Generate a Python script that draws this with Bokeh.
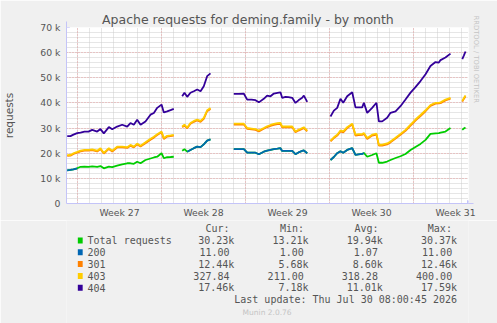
import numpy as np
from bokeh.plotting import figure
from bokeh.layouts import column
from bokeh.models import (Range1d, FixedTicker, Grid, Arrow, NormalHead, ColumnDataSource, Title)
from bokeh.core.properties import value
from bokeh.embed import file_html
from bokeh.resources import INLINE

nan = float("nan")
GAP = [nan]

# x: days since the left edge of the 33-day window; gaps = no data
day = ([0.06, 0.33, 0.58, 0.89, 1.17, 1.5, 1.83, 2.14, 2.56, 2.83, 3.11, 3.53, 3.81, 4.22, 4.64,
        5.06, 5.33, 5.61, 5.89, 6.17, 6.58, 7.0, 7.28, 7.56, 7.92, 8.11, 8.39, 8.67, 8.94]
       + [9.3]
       + [9.64, 9.83, 10.06, 10.33, 10.61, 10.89, 11.17, 11.44, 11.72, 12.0]
       + [13.0]
       + [13.94, 14.33, 14.78, 15.06, 15.42, 15.75, 16.03, 16.44, 16.72, 17.0, 17.28, 17.58,
          17.83, 17.97, 18.25, 18.5, 18.81, 19.08, 19.33, 19.64, 19.78, 20.06]
       + [21.0]
       + [22.0, 22.28, 22.56, 22.83, 23.06, 23.39, 23.81, 24.08, 24.33, 24.64, 24.78, 25.06,
          25.47, 25.83, 26.03, 26.31, 26.72, 27.0, 27.42, 27.83, 28.25, 28.67, 29.08, 29.5,
          29.92, 30.33, 30.75, 31.03, 31.17, 31.58, 32.0]
       + [32.5]
       + [32.98, 33.11, 33.25])

# values in thousands of requests
total = ([13.21, 13.4, 13.6, 14.0, 14.6, 14.7, 14.6, 14.8, 14.6, 14.9, 14.0, 14.7, 14.5, 15.1, 15.6,
          16.0, 16.0, 15.8, 16.6, 16.0, 17.3, 17.9, 18.3, 18.6, 20.0, 18.0, 18.4, 18.5, 18.6]
         + GAP
         + [21.0, 21.6, 20.6, 21.3, 22.0, 22.6, 22.4, 23.5, 25.0, 25.5]
         + GAP
         + [21.6, 21.6, 21.6, 20.2, 20.2, 20.2, 19.6, 20.6, 21.0, 21.3, 21.6, 21.8,
            22.0, 20.9, 20.9, 20.9, 20.9, 19.6, 20.3, 20.9, 21.1, 20.0]
         + GAP
         + [17.3, 18.5, 20.0, 20.8, 20.2, 21.3, 22.0, 19.3, 19.5, 19.7, 20.1, 18.6,
            19.3, 20.0, 16.2, 16.2, 16.7, 17.3, 18.1, 18.8, 19.7, 21.3, 22.5, 23.7,
            25.3, 27.7, 27.9, 28.0, 28.2, 28.6, 30.0]
         + GAP
         + [29.3, 29.8, 30.23])

r200 = ([0.001] * 4 + [nan] * 25
        + GAP
        + [nan, nan] + [0.001] * 8
        + GAP
        + [0.001] * 22
        + GAP
        + [0.001] * 11 + [nan] * 20
        + GAP
        + [nan, nan, nan])

r301 = ([5.7, 5.6, 6.1, 6.2, 6.1, 6.3, 6.4, 6.4, 6.1, 6.8, 5.9, 7.0, 6.2, 7.2, 6.7,
         6.1, 7.0, 6.5, 6.9, 6.7, 6.7, 7.5, 7.9, 8.6, 8.3, 7.7, 8.2, 8.3, 8.4]
        + GAP
        + [9.3, 9.4, 9.3, 10.4, 10.5, 10.4, 10.1, 10.2, 11.7, 12.1]
        + GAP
        + [9.8, 9.8, 9.8, 9.5, 9.3, 9.1, 9.1, 9.1, 9.4, 9.6, 9.7, 9.8,
           9.7, 9.4, 9.4, 9.4, 9.4, 8.7, 8.7, 8.8, 8.9, 8.7]
        + GAP
        + [7.4, 7.5, 7.0, 7.9, 8.1, 8.7, 9.4, 7.7, 7.7, 7.6, 7.6, 7.1,
           7.7, 7.4, 6.8, 6.8, 6.8, 7.0, 7.7, 8.5, 9.2, 9.7, 10.5, 11.1,
           11.4, 11.1, 11.8, 11.8, 11.7, 12.4, 11.7]
        + GAP
        + [11.2, 11.8, 12.44])

r403 = ([0.30, 0.29, 0.28, 0.30, 0.31, 0.30, 0.29, 0.30, 0.31, 0.30, 0.21, 0.30, 0.31, 0.30, 0.32,
         0.31, 0.30, 0.31, 0.32, 0.31, 0.32, 0.33, 0.32, 0.34, 0.33, 0.32, 0.33, 0.32, 0.33]
        + GAP
        + [0.32, 0.33, 0.32, 0.33, 0.34, 0.33, 0.34, 0.35, 0.34, 0.35]
        + GAP
        + [0.33, 0.33, 0.34, 0.32, 0.32, 0.31, 0.32, 0.32, 0.33, 0.33, 0.34, 0.33,
           0.34, 0.33, 0.32, 0.33, 0.32, 0.31, 0.32, 0.33, 0.33, 0.32]
        + GAP
        + [0.33, 0.34, 0.35, 0.36, 0.35, 0.36, 0.37, 0.35, 0.36, 0.35, 0.36, 0.35,
           0.36, 0.37, 0.36, 0.37, 0.38, 0.37, 0.38, 0.39, 0.38, 0.39, 0.40, 0.39,
           0.38, 0.37, 0.36, 0.35, 0.34, 0.34, 0.33]
        + GAP
        + [0.33, 0.33, 0.328])

r404 = ([7.6, 7.5, 7.4, 7.5, 7.2, 7.3, 7.3, 7.8, 7.6, 7.6, 7.8, 8.4, 8.5, 8.0, 8.7,
         8.2, 8.7, 8.7, 9.5, 8.3, 8.3, 9.6, 9.5, 10.5, 10.7, 10.2, 9.7, 10.0, 10.3]
        + GAP
        + [12.0, 12.7, 12.2, 12.0, 11.8, 12.0, 11.8, 12.6, 13.6, 13.8]
        + GAP
        + [11.9, 11.9, 11.9, 11.3, 11.5, 11.5, 11.2, 11.6, 12.2, 11.4, 12.1, 12.1,
           12.2, 11.4, 11.8, 11.7, 11.4, 11.4, 11.7, 12.0, 12.6, 11.4]
        + GAP
        + [9.6, 10.6, 10.7, 12.6, 11.4, 12.3, 12.5, 10.9, 10.7, 10.6, 12.0, 10.0,
           10.7, 12.3, 9.3, 9.3, 10.2, 11.4, 10.5, 11.0, 12.1, 12.7, 12.9, 13.5,
           14.3, 15.5, 16.2, 15.9, 16.8, 16.7, 17.59]
        + GAP
        + [16.6, 16.9, 17.46])

week_labels = ["Week 27", "Week 28", "Week 29", "Week 30", "Week 31"]
y_ticks = [0, 10, 20, 30, 40, 50, 60, 70]
y_tick_labels = ["0", "10 k", "20 k", "30 k", "40 k", "50 k", "60 k", "70 k"]

series_names = ["Total requests", "200", "301", "403", "404"]
series_colors = ["#00CC00", "#0066B3", "#FF8000", "#FFCC00", "#330099"]
cur_vals = ["30.23k", "11.00", "12.44k", "327.84", "17.46k"]
min_vals = ["13.21k", "1.00", "5.68k", "211.00", "7.18k"]
avg_vals = ["19.94k", "1.07", "8.60k", "318.28", "11.01k"]
max_vals = ["30.37k", "11.00", "12.46k", "400.00", "17.59k"]

# ---- stacking (Munin stacks every field on top of the total line) ----
t = np.array(total)
a200 = np.array(r200)
s200 = t + a200
s301 = t + np.nan_to_num(a200) + np.array(r301)
s403 = s301 + np.array(r403)
s404 = s403 + np.array(r404)
src = ColumnDataSource(dict(day=day, total=t, s200=s200, s301=s301, s403=s403, s404=s404))

# ---- geometry (canvas px) ----
W = 497
H1 = 220          # main chart part
H2 = 323 - H1     # legend part
FL, FT, FW, FH = 66, 27, 402, 176
FB = FT + FH
AX = "#c4c4f8"
TXT = "#555555"
FAINT = "#c4c4c4"
BG = "#f0f0f0"

p = figure(width=W, height=H1, output_backend="svg", toolbar_location=None,
           title="Apache requests for deming.family - by month",
           x_range=Range1d(0, 33.5), y_range=Range1d(0, 70),
           min_border_left=FL, min_border_right=W - FL - FW,
           min_border_top=FT, min_border_bottom=H1 - FB,
           background_fill_color="#ffffff", border_fill_color=BG,
           outline_line_color=None)

p.title.align = "left"
p.title.offset = 35.5
p.title.standoff = 2
p.title.text_font = "DejaVu Sans"
p.title.text_font_size = "12.5px"
p.title.text_font_style = "normal"
p.title.text_color = TXT

p.add_layout(Title(text="RRDTOOL / TOBI OETIKER", align="left", offset=-12, standoff=6,
                   text_font="DejaVu Sans", text_font_size="6.8px", text_font_style="normal",
                   text_color=FAINT), "right")

p.xgrid.visible = False
p.ygrid.visible = False

week_starts = [0.92, 7.92, 14.92, 21.92, 28.92]
days_grid = [0.92 + k for k in range(33)]
week_mid = [w + 3.5 for w in week_starts]

minor_x = Grid(dimension=0, ticker=FixedTicker(ticks=days_grid), grid_line_color="#cccccc",
               grid_line_dash="1 1", grid_line_width=1)
minor_y = Grid(dimension=1, ticker=FixedTicker(ticks=list(range(0, 71, 2))), grid_line_color="#cccccc",
               grid_line_dash="1 1", grid_line_width=1)
major_x = Grid(dimension=0, ticker=FixedTicker(ticks=week_starts), grid_line_color="#e8a0a0",
               grid_line_dash="1 2", grid_line_width=1)
major_y = Grid(dimension=1, ticker=FixedTicker(ticks=y_ticks[1:]), grid_line_color="#e8a0a0",
               grid_line_dash="1 2", grid_line_width=1)
for g in (minor_x, minor_y, major_x, major_y):
    p.center.append(g)

# axes
p.yaxis.ticker = FixedTicker(ticks=y_ticks)
p.yaxis.major_label_overrides = {v: s for v, s in zip(y_ticks, y_tick_labels)}
p.xaxis.ticker = FixedTicker(ticks=week_mid)
p.xaxis.major_label_overrides = {v: s for v, s in zip(week_mid, week_labels)}
for ax in (p.xaxis, p.yaxis):
    ax.axis_line_color = AX
    ax.major_tick_line_color = None
    ax.minor_tick_line_color = None
    ax.major_tick_out = 0
    ax.major_tick_in = 0
    ax.major_label_text_font = "DejaVu Sans"
    ax.major_label_text_font_size = "9.3px"
    ax.major_label_text_color = TXT
p.yaxis.major_label_standoff = 6
p.xaxis.major_label_standoff = 3
p.yaxis.axis_label = "requests"
p.yaxis.axis_label_text_font = "DejaVu Sans"
p.yaxis.axis_label_text_font_size = "10.5px"
p.yaxis.axis_label_text_font_style = "normal"
p.yaxis.axis_label_text_color = TXT
p.yaxis.axis_label_standoff = 22

# arrows at axis ends
p.add_layout(Arrow(end=NormalHead(size=6, fill_color=AX, line_color=AX), line_color=AX,
                   x_start=0, y_start=FH - 1, x_end=0, y_end=FH + 6,
                   start_units="screen", end_units="screen"))
p.add_layout(Arrow(end=NormalHead(size=6, fill_color=AX, line_color=AX), line_color=AX,
                   x_start=FW - 1, y_start=0, x_end=FW + 5, y_end=0,
                   start_units="screen", end_units="screen"))

# lines (drawing order as in Munin)
LW = 1.8
p.line("day", "total", source=src, line_color=series_colors[0], line_width=LW)
p.line("day", "s200", source=src, line_color=series_colors[1], line_width=LW)
p.line("day", "s301", source=src, line_color=series_colors[2], line_width=LW)
p.line("day", "s403", source=src, line_color=series_colors[3], line_width=LW)
p.line("day", "s404", source=src, line_color=series_colors[4], line_width=LW)

# ---- legend table (separate canvas below the chart, pixel coordinates) ----
q = figure(width=W, height=H2, output_backend="svg", toolbar_location=None, title=None,
           x_range=Range1d(0, W), y_range=Range1d(H2, 0),
           x_axis_type=None, y_axis_type=None, min_border=0,
           background_fill_color=BG, border_fill_color=BG, outline_line_color=None)

MONO = value("DejaVu Sans Mono")
FS = "10px"
CW = 6.0
headers = ["Cur:", "Min:", "Avg:", "Max:"]
head_x = [171.7, 264.0, 356.0, 446.7]
col_right = [207.5, 299.3, 391.0, 482.8]
row_y = [240.0 + i * 11.8 - H1 for i in range(5)]
head_y = 228.3 - H1

lx, ly, lt = [], [], []
rx, ry, rt = [], [], []
for h, hx in zip(headers, head_x):
    lx.append(hx); ly.append(head_y); lt.append(h)
for i, name in enumerate(series_names):
    lx.append(26); ly.append(row_y[i]); lt.append(name)
    for vals, cr in zip((cur_vals, min_vals, avg_vals, max_vals), col_right):
        v = vals[i]
        rx.append(cr - (0 if v.endswith("k") else CW)); ry.append(row_y[i]); rt.append(v)
rx.append(482.8); ry.append(299.3 - H1); rt.append("Last update: Thu Jul 30 08:00:45 2026")

q.text(x=lx, y=ly, text=lt, text_font=MONO, text_font_size=FS, text_color=TXT,
       text_align="left", text_baseline="middle")
q.text(x=rx, y=ry, text=rt, text_font=MONO, text_font_size=FS, text_color=TXT,
       text_align="right", text_baseline="middle")
q.rect(x=[17] * 5, y=row_y, width=6, height=6, fill_color=series_colors, line_color=None)
q.text(x=[248], y=[312.3 - H1], text=["Munin 2.0.76"], text_font=value("DejaVu Sans"),
       text_font_size="7.5px", text_color=FAINT, text_align="center", text_baseline="middle")

layout = column(p, q, spacing=0)
open("out.html", "w").write(file_html(layout, INLINE))
